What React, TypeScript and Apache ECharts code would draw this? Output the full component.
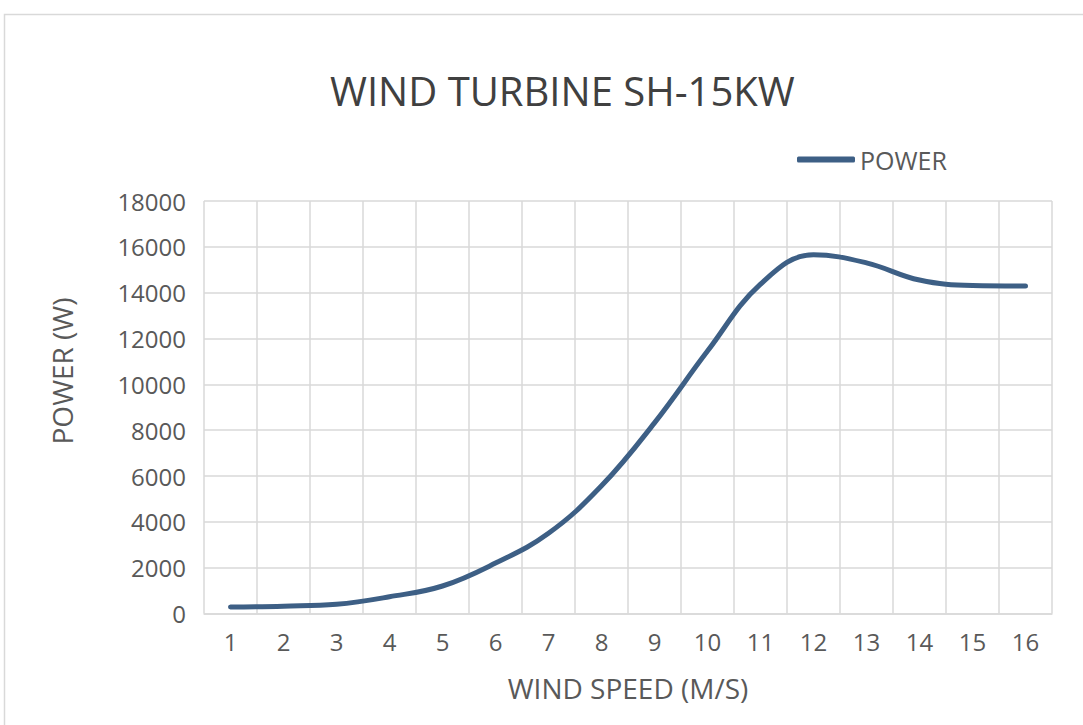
import React, { useEffect, useRef } from "react";
import * as echarts from "echarts";

const windSpeeds = ["1", "2", "3", "4", "5", "6", "7", "8", "9", "10", "11", "12", "13", "14", "15", "16"];
const powerValues = [280, 320, 400, 730, 1200, 2200, 3500, 5570, 8320, 11450, 14370, 15650, 15300, 14550, 14310, 14290];
const titleText = "WIND TURBINE SH-15KW";
const seriesName = "POWER";
const xAxisName = "WIND SPEED (M/S)";
const yAxisName = "POWER (W)";

const FONT = "'Open Sans', 'Noto Sans', sans-serif";

export default function App() {
  const ref = useRef<HTMLDivElement>(null);
  useEffect(() => {
    document.body.style.margin = "0";
    const chart = echarts.init(ref.current!, undefined, { renderer: "svg" });
    chart.setOption({
      animation: false,
      backgroundColor: "#ffffff",
      textStyle: { fontFamily: FONT },
      title: {
        text: titleText,
        left: 325,
        top: 65,
        textStyle: { fontFamily: FONT, fontSize: 40, fontWeight: "normal", color: "#404040" },
      },
      legend: {
        data: [seriesName],
        left: 792,
        top: 142,
        icon: "roundRect",
        itemWidth: 58,
        itemHeight: 6,
        textStyle: { fontFamily: FONT, fontSize: 25, color: "#595959" },
      },
      graphic: [
        {
          type: "rect",
          shape: { x: 4.5, y: 14.5, width: 1200, height: 900 },
          style: { fill: "none", stroke: "#d9d9d9", lineWidth: 1.5 },
          silent: true,
          z: -1,
        },
        {
          type: "text",
          x: 62,
          y: 371,
          rotation: Math.PI / 2,
          style: {
            text: yAxisName,
            fontFamily: FONT,
            fontSize: 28,
            fill: "#595959",
            align: "center",
            verticalAlign: "middle",
          },
        },
      ],
      grid: { left: 204, right: 31, top: 201, bottom: 111.5, containLabel: false },
      xAxis: {
        type: "category",
        data: windSpeeds,
        boundaryGap: true,
        name: xAxisName,
        nameLocation: "middle",
        nameGap: 60,
        nameTextStyle: { fontFamily: FONT, fontSize: 28, color: "#595959" },
        axisLine: { show: true, lineStyle: { color: "#d9d9d9", width: 1.5 } },
        axisTick: { show: false },
        axisLabel: { fontFamily: FONT, fontSize: 24, color: "#595959", margin: 16, interval: 0 },
        splitLine: { show: true, interval: 0, lineStyle: { color: "#d9d9d9", width: 1.5 } },
      },
      yAxis: {
        type: "value",
        min: 0,
        max: 18000,
        interval: 2000,
        axisLine: { show: false },
        axisTick: { show: false },
        axisLabel: { fontFamily: FONT, fontSize: 24, color: "#595959", margin: 18, formatter: (v: number) => String(v) },
        splitLine: { show: true, lineStyle: { color: "#d9d9d9", width: 1.5 } },
      },
      series: [
        {
          name: seriesName,
          type: "line",
          data: powerValues,
          smooth: 0.4,
          symbol: "none",
          lineStyle: { color: "#3d5f85", width: 5, cap: "round" },
          itemStyle: { color: "#3d5f85" },
        },
      ],
    });
    return () => chart.dispose();
  }, []);
  return <div ref={ref} style={{ width: 1083, height: 725 }} />;
}
